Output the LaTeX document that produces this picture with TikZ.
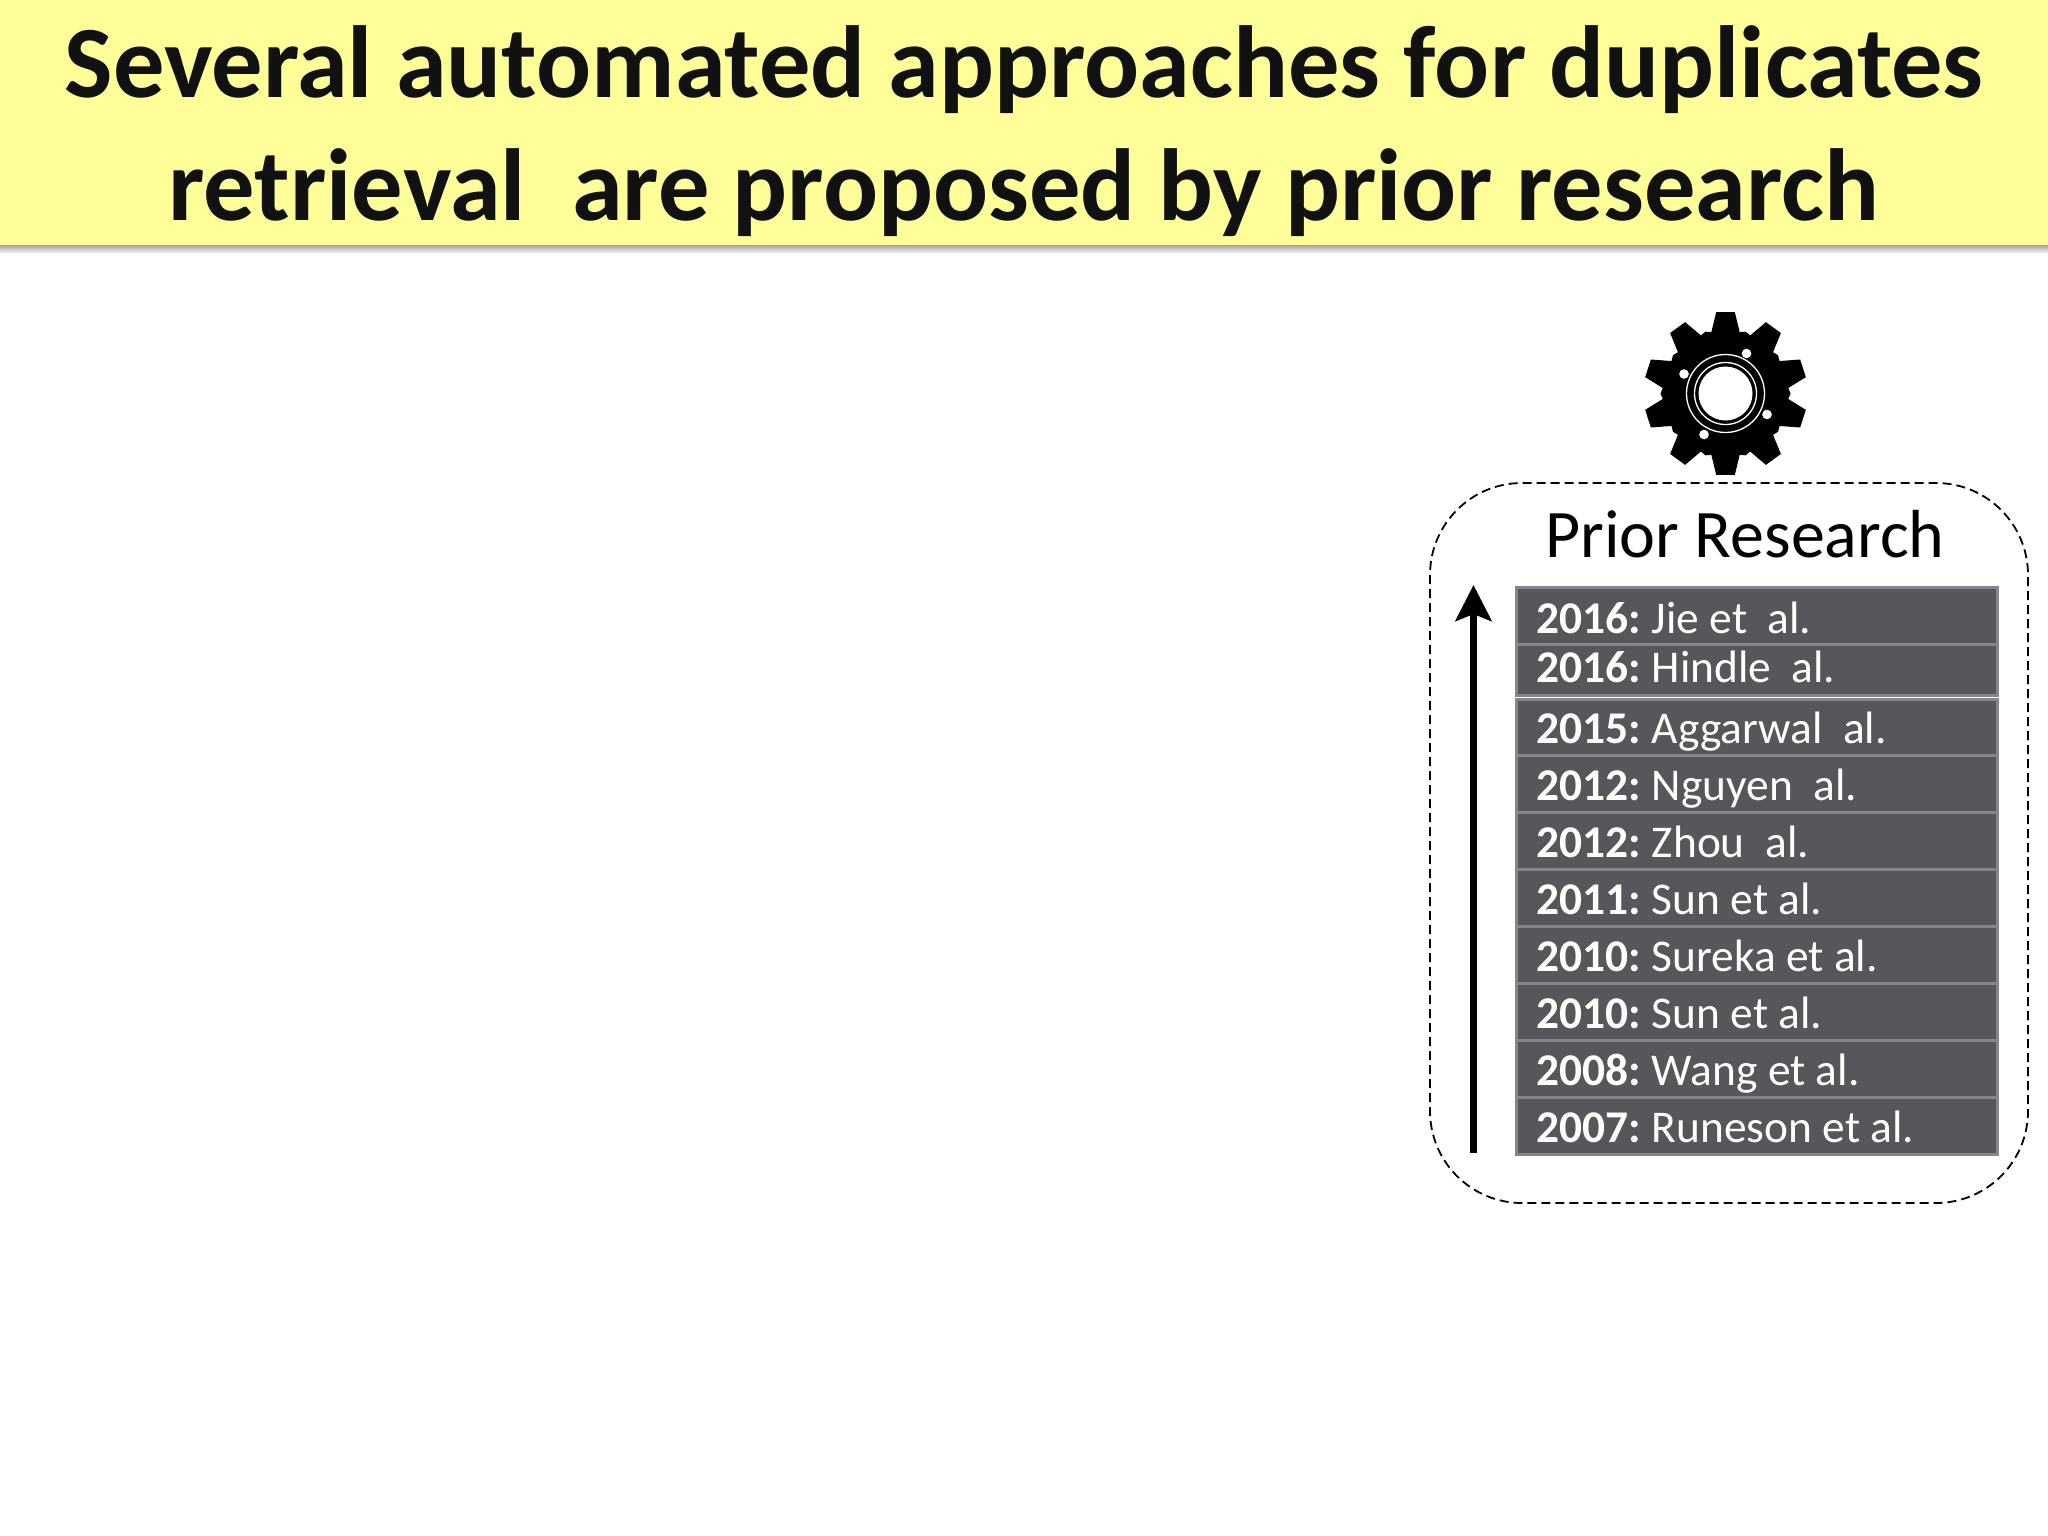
\documentclass[tikz,border=0pt]{standalone}
\usepackage{fontspec}
\setmainfont{Carlito}
\usetikzlibrary{arrows.meta}
\definecolor{bannerfill}{HTML}{FFFF99}
\definecolor{titleink}{HTML}{111111}
\definecolor{rowfill}{HTML}{58565B}
\definecolor{rowedge}{HTML}{868589}
\newcommand{\yr}[1]{\textbf{#1:}\hspace{-2.5pt} }
\tikzset{
  rowbox/.style={draw=rowedge,line width=3pt,fill=rowfill},
  rowtext/.style={text=white,font=\fontsize{45.4}{45.4}\selectfont,anchor=base west,inner sep=0pt},
  titletext/.style={text=titleink,font=\fontsize{102.5}{102.5}\selectfont\bfseries,anchor=base,inner sep=0pt},
  headtext/.style={text=black,font=\fontsize{68}{68}\selectfont,anchor=base,inner sep=0pt},
  gearhole/.style={fill=white},
  gearring/.style={draw=white,line width=1.3pt},
}
\begin{document}
\begin{tikzpicture}[x=1pt,y=-1pt]
\useasboundingbox (0,0) rectangle (2048,1536);
% banner
\shade[top color=black!40,bottom color=white] (0,244) rectangle (2048,254);
\fill[bannerfill] (0,0) rectangle (2048,244.5);
\node[titletext] (t1) at (1024,97.5) {Several automated approaches for duplicates};
\node[titletext] (t2) at (1024,220.5) {retrieval\ \ are proposed by prior research};
% gear
\coordinate (g) at (1725.5,393.5);
\fill[black] ([shift={(g)}]72:65)
  foreach \a in {90,126,...,414} {
    -- ([shift={(g)}]{\a-13}:63) -- ([shift={(g)}]{\a-6.5}:82) -- ([shift={(g)}]{\a+6.5}:82) -- ([shift={(g)}]{\a+13}:63) -- ([shift={(g)}]{\a+18}:65)
  } -- cycle;
\draw[gearring] (g) circle[radius=39];
\draw[gearring] (g) circle[radius=31];
\fill[gearhole] (g) circle[radius=27];
\fill[gearhole] (1746.5,353.5) circle[radius=4.8];
\fill[gearhole] (1684,374) circle[radius=4.8];
\fill[gearhole] (1704,434.5) circle[radius=4.8];
\fill[gearhole] (1767,414.5) circle[radius=4.8];
% dashed container
\draw[black,line width=1.8pt,dash pattern=on 9pt off 5pt,rounded corners=92pt] (1430,483) rectangle (2028,1203);
\node[headtext] (h) at (1745,557) {Prior Research};
% rows
\draw[rowbox] (1516,587) rectangle (1997,644);
\draw[rowbox] (1516,644) rectangle (1997,695);
\draw[rowbox] (1516,699) rectangle (1997,755);
\draw[rowbox] (1516,755) rectangle (1997,812);
\draw[rowbox] (1516,812) rectangle (1997,869);
\draw[rowbox] (1516,869) rectangle (1997,926);
\draw[rowbox] (1516,926) rectangle (1997,983);
\draw[rowbox] (1516,983) rectangle (1997,1040);
\draw[rowbox] (1516,1040) rectangle (1997,1097);
\draw[rowbox] (1516,1097) rectangle (1997,1154);
\node[rowtext] (r1) at (1536,633) {\yr{2016}Jie et\ \ al.};
\node[rowtext] (r2) at (1536,682) {\yr{2016}Hindle\ \ al.};
\node[rowtext] (r3) at (1536,743) {\yr{2015}Aggarwal\ \ al.};
\node[rowtext] (r4) at (1536,800) {\yr{2012}Nguyen\ \ al.};
\node[rowtext] (r5) at (1536,857) {\yr{2012}Zhou\ \ al.};
\node[rowtext] (r6) at (1536,914) {\yr{2011}Sun et al.};
\node[rowtext] (r7) at (1536,971) {\yr{2010}Sureka et al.};
\node[rowtext] (r8) at (1536,1028) {\yr{2010}Sun et al.};
\node[rowtext] (r9) at (1536,1085) {\yr{2008}Wang et al.};
\node[rowtext] (r10) at (1536,1142) {\yr{2007}Runeson et al.};
% arrow
\coordinate (as) at (1473.5,1153);
\coordinate (ae) at (1473.5,585);
\draw[black,line width=7pt,-{Stealth[length=36pt,width=36pt,inset=7pt]}] (as) -- (ae);
\end{tikzpicture}
\end{document}
